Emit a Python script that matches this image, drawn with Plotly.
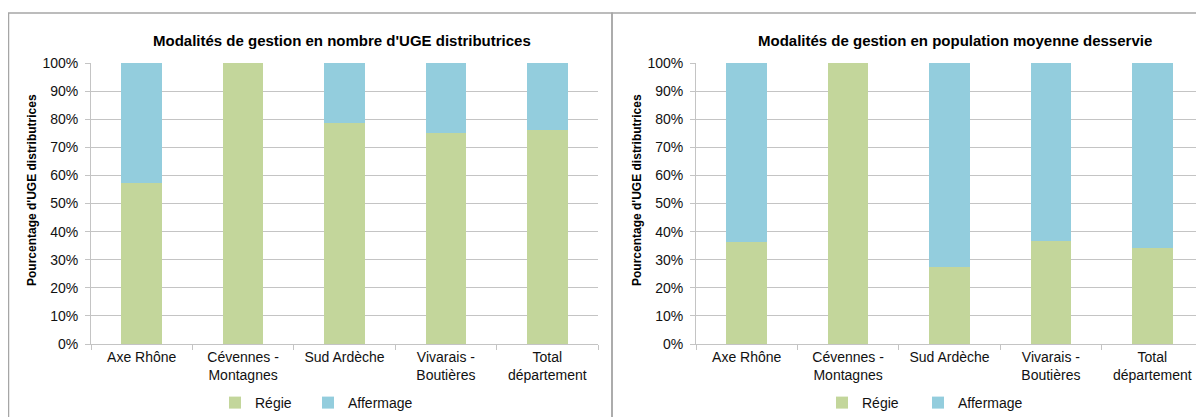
import plotly.graph_objects as go

# Zones (catégories) et libellés d'axe
zones = ["Axe Rhône", "Cévennes - Montagnes", "Sud Ardèche", "Vivarais - Boutières", "Total département"]
zone_labels = ["Axe Rhône", "Cévennes -<br>Montagnes", "Sud Ardèche", "Vivarais -<br>Boutières", "Total<br>département"]

# Part (%) en nombre d'UGE distributrices
regie_uge = [57.3, 100.0, 78.6, 75.0, 76.2]
affermage_uge = [42.7, 0.0, 21.4, 25.0, 23.8]

# Part (%) en population moyenne desservie
regie_pop = [36.4, 100.0, 27.3, 36.8, 34.3]
affermage_pop = [63.6, 0.0, 72.7, 63.2, 65.7]

y_ticks = list(range(0, 101, 10))
y_tick_labels = [f"{v}%" for v in y_ticks]

GREEN = "#C3D69B"
BLUE = "#93CDDD"
GRID = "#C4C4C4"
FONT = "Liberation Sans, Arial, sans-serif"
W, H = 1204, 417
OFF = 8  # the page body adds an 8px margin around the figure


def px_x(v):
    return (v - OFF) / W


def px_y(v):
    return 1 - (v - OFF) / H


fig = go.Figure()

# one legend per entry so each can sit where the original puts it
panels = [
    ("x", "y", ("legend", "legend2"), regie_uge, affermage_uge),
    ("x2", "y2", ("legend3", "legend4"), regie_pop, affermage_pop),
]
for xa, ya, lgs, regie, aff in panels:
    fig.add_trace(go.Bar(x=zones, y=regie, name="Régie", marker=dict(color=GREEN, line_width=0),
                         width=0.4, xaxis=xa, yaxis=ya, legend=lgs[0]))
    fig.add_trace(go.Bar(x=zones, y=aff, name="Affermage", marker=dict(color=BLUE, line_width=0),
                         width=0.4, xaxis=xa, yaxis=ya, legend=lgs[1]))

xaxis_common = dict(
    type="category", categoryorder="array", categoryarray=zones,
    tickmode="array", tickvals=zones, ticktext=zone_labels,
    showline=True, linecolor=GRID, linewidth=1,
    ticks="outside", tickson="boundaries", ticklen=5, tickcolor=GRID,
    tickfont=dict(family=FONT, size=14, color="#111"),
    showgrid=False, zeroline=False, fixedrange=True, automargin=False,
)
yaxis_common = dict(
    range=[0, 100], tickmode="array", tickvals=y_ticks, ticktext=y_tick_labels,
    showline=True, linecolor=GRID, linewidth=1,
    ticks="outside", ticklen=5, tickcolor=GRID, ticklabelstandoff=4,
    showgrid=True, gridcolor=GRID, gridwidth=1, zeroline=False,
    tickfont=dict(family=FONT, size=14, color="#111"), fixedrange=True, automargin=False,
)

legend_common = dict(
    orientation="h", yanchor="middle", y=px_y(403), xanchor="left",
    font=dict(family=FONT, size=14, color="#111"), bgcolor="rgba(0,0,0,0)",
    itemwidth=30,
)

fig.update_layout(
    width=W, height=H,
    margin=dict(l=0, r=0, t=0, b=0, pad=0, autoexpand=False),
    paper_bgcolor="white", plot_bgcolor="white",
    barmode="stack", bargap=0.6,
    showlegend=True,
    xaxis=dict(domain=[px_x(91), px_x(598)], anchor="y", **xaxis_common),
    yaxis=dict(domain=[px_y(344), px_y(63)], anchor="x", **yaxis_common),
    xaxis2=dict(domain=[px_x(696), px_x(1203)], anchor="y2", **xaxis_common),
    yaxis2=dict(domain=[px_y(344), px_y(63)], anchor="x2", **yaxis_common),
    legend=dict(x=px_x(215), **legend_common),
    legend2=dict(x=px_x(308), **legend_common),
    legend3=dict(x=px_x(822), **legend_common),
    legend4=dict(x=px_x(918), **legend_common),
    font=dict(family=FONT),
)

# Cadres des deux graphiques
for x0, x1 in [(8.5, 612), (612, 1230)]:
    fig.add_shape(type="rect", xref="paper", yref="paper",
                  x0=px_x(x0), x1=px_x(x1), y0=-0.1, y1=px_y(13),
                  line=dict(color="#A6A6A6", width=1.5), layer="below")

titles = [
    ("Modalités de gestion en nombre d'UGE distributrices", 342),
    ("Modalités de gestion en population moyenne desservie", 955),
]
for text, cx in titles:
    fig.add_annotation(text=f"<b>{text}</b>", xref="paper", yref="paper",
                       x=px_x(cx), y=px_y(41), xanchor="center", yanchor="middle",
                       showarrow=False, font=dict(family=FONT, size=15, color="#000"))

for cx in (32, 637):
    fig.add_annotation(text="<b>Pourcentage d'UGE distributrices</b>", xref="paper", yref="paper",
                       x=px_x(cx), y=px_y(190), xanchor="center", yanchor="middle",
                       showarrow=False, textangle=-90,
                       font=dict(family=FONT, size=12, color="#000"))

fig.write_html("out.html")
